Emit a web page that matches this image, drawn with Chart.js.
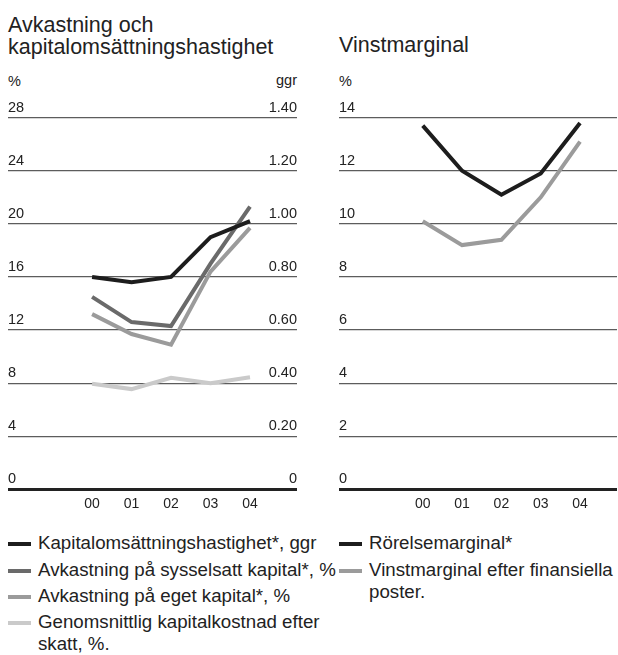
<!DOCTYPE html>
<html>
<head>
<meta charset="utf-8">
<script src="https://cdn.jsdelivr.net/npm/chart.js@4.4.0/dist/chart.umd.min.js"></script>
<style>
  body { margin: 0; background: #fff; font-family: "Liberation Sans", Arial, sans-serif; color: #222; }
  #page { position: relative; width: 618px; height: 655px; overflow: hidden; }
  .title { position: absolute; font-size: 21.5px; line-height: 22px; white-space: nowrap; }
  .unit { position: absolute; font-size: 14.5px; line-height: 16px; }
  canvas { position: absolute; top: 0; }
  .leg { position: absolute; font-size: 18.7px; line-height: 22px; white-space: nowrap; }
  .leg i { position: absolute; left: -30px; top: 10.3px; width: 23px; height: 4.5px; }
</style>
</head>
<body>
<div id="page">
  <div class="title" style="left:8px;top:14px">Avkastning och<br>kapitalomsättningshastighet</div>
  <div class="title" style="left:339px;top:34px">Vinstmarginal</div>
  <div class="unit" style="left:8px;top:73px">%</div>
  <div class="unit" style="right:321px;top:72px">ggr</div>
  <div class="unit" style="left:339px;top:73px">%</div>

  <canvas id="left" width="310" height="520" style="left:0"></canvas>
  <canvas id="right" width="298" height="520" style="left:320px"></canvas>

  <div class="leg" style="left:38px;top:531.5px"><i style="background:#1d1d1d"></i>Kapitalomsättningshastighet*, ggr</div>
  <div class="leg" style="left:38px;top:558.5px"><i style="background:#6a6a6a"></i>Avkastning på sysselsatt kapital*, %</div>
  <div class="leg" style="left:38px;top:584.5px"><i style="background:#9b9b9b"></i>Avkastning på eget kapital*, %</div>
  <div class="leg" style="left:38px;top:610.5px"><i style="background:#cacaca"></i>Genomsnittlig kapitalkostnad efter<br>skatt, %.</div>

  <div class="leg" style="left:369px;top:531.5px"><i style="background:#1d1d1d"></i>Rörelsemarginal*</div>
  <div class="leg" style="left:369px;top:558.5px"><i style="background:#9b9b9b"></i>Vinstmarginal efter finansiella<br>poster.</div>
</div>

<script>
// years on the x axis
const years = ['00', '01', '02', '03', '04'];

// left chart
const kapOms = [0.80, 0.78, 0.80, 0.95, 1.01];   // ggr, right axis
const avkSyss = [14.5, 12.6, 12.3, 17.0, 21.3];  // %
const avkEget = [13.2, 11.7, 10.9, 16.4, 19.7];  // %
const kapKost = [7.95, 7.55, 8.4, 8.0, 8.45];    // %

// right chart
const rorelse = [13.7, 12.0, 11.1, 11.9, 13.8];
const vinst = [10.1, 9.2, 9.4, 11.0, 13.1];

const pts = arr => arr.map((v, i) => ({ x: i, y: v }));

const line = (label, data, color, axis) => ({
  label: label,
  data: pts(data),
  borderColor: color,
  borderWidth: 4,
  pointRadius: 0,
  tension: 0,
  yAxisID: axis || 'y'
});

function xScale(min, max) {
  return {
    type: 'linear',
    min: min,
    max: max,
    grid: { display: false, drawTicks: false },
    border: { display: false },
    afterBuildTicks: s => { s.ticks = years.map((_, i) => ({ value: i })); },
    afterFit: s => { s.height = 30.7; },
    ticks: {
      callback: v => years[v],
      padding: 6,
      autoSkip: false,
      maxRotation: 0,
      font: { size: 14 },
      color: '#222'
    }
  };
}

function yScale(max, step) {
  return {
    position: 'left',
    min: 0,
    max: max,
    afterFit: s => { s.width = 0; },
    border: { display: false },
    grid: {
      drawTicks: false,
      color: c => c.tick.value === 0 ? '#222' : '#5c5c5c',
      lineWidth: c => c.tick.value === 0 ? 3 : 1.2
    },
    ticks: {
      stepSize: step,
      mirror: true,
      padding: 0,
      labelOffset: -10,
      font: { size: 14.5 },
      color: '#222'
    }
  };
}

Chart.defaults.font.family = '"Liberation Sans", Arial, sans-serif';

new Chart('left', {
  type: 'line',
  data: {
    datasets: [
      line('Kapitalomsättningshastighet*, ggr', kapOms, '#1d1d1d', 'y2'),
      line('Avkastning på sysselsatt kapital*, %', avkSyss, '#6a6a6a'),
      line('Avkastning på eget kapital*, %', avkEget, '#9b9b9b'),
      line('Genomsnittlig kapitalkostnad efter skatt, %.', kapKost, '#cacaca')
    ]
  },
  options: {
    responsive: false,
    animation: false,
    layout: { padding: { left: 8, right: 13, top: 117.7, bottom: 0 } },
    plugins: { legend: { display: false }, tooltip: { enabled: false } },
    scales: {
      x: xScale(-2.13, 5.19),
      y: yScale(28, 4),
      y2: {
        position: 'right',
        min: 0,
        max: 1.4,
        afterFit: s => { s.width = 0; },
        border: { display: false },
        grid: { display: false },
        ticks: {
          stepSize: 0.2,
          mirror: true,
          padding: 0,
          labelOffset: -10,
          font: { size: 14.5 },
          color: '#222',
          callback: v => v === 0 ? '0' : v.toFixed(2)
        }
      }
    }
  }
});

new Chart('right', {
  type: 'line',
  data: {
    datasets: [
      line('Rörelsemarginal*', rorelse, '#1d1d1d'),
      line('Vinstmarginal efter finansiella poster.', vinst, '#9b9b9b')
    ]
  },
  options: {
    responsive: false,
    animation: false,
    layout: { padding: { left: 19, right: 1, top: 117.7, bottom: 0 } },
    plugins: { legend: { display: false }, tooltip: { enabled: false } },
    scales: {
      x: xScale(-2.13, 4.94),
      y: yScale(14, 2)
    }
  }
});
</script>
</body>
</html>
